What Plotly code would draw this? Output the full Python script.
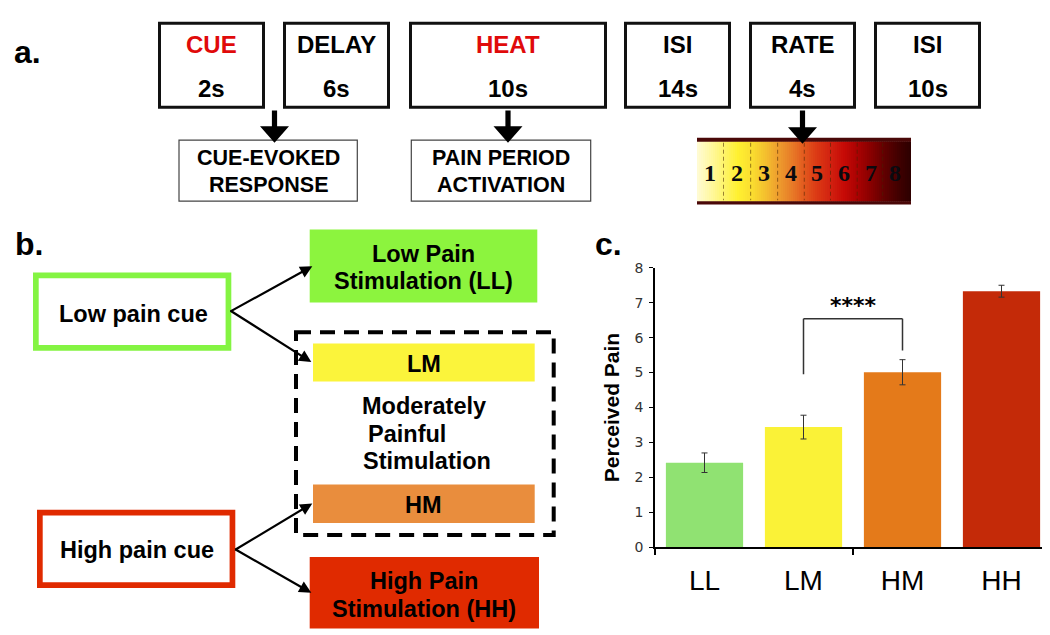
import plotly.graph_objects as go

W, H = 1050, 635
SANS = "Liberation Sans, Arial, sans-serif"
SERIF = "Liberation Serif, Times New Roman, serif"

# ---------------- data ----------------
# panel c: perceived pain by condition
categories = ["LL", "LM", "HM", "HH"]
pain_mean = [2.42, 3.44, 5.01, 7.33]
pain_sem = [0.28, 0.34, 0.36, 0.17]
y_ticks = [0, 1, 2, 3, 4, 5, 6, 7, 8]
bracket_pair = [1, 2]          # LM vs HM
bracket_low = [4.95, 5.63]
bracket_top = 6.54
sig_label = "****"

# panel a: trial structure
trial_phases = ["CUE", "DELAY", "HEAT", "ISI", "RATE", "ISI"]
trial_durations = ["2s", "6s", "10s", "14s", "4s", "10s"]
phase_is_red = [True, False, True, False, False, False]
response_labels = [["CUE-EVOKED", "RESPONSE"], ["PAIN PERIOD", "ACTIVATION"]]
rating_scale = ["1", "2", "3", "4", "5", "6", "7", "8"]

# panel b: design
cue_labels = ["Low pain cue", "High pain cue"]
stim_labels = [["Low Pain", "Stimulation (LL)"], ["LM"], ["HM"], ["High Pain", "Stimulation (HH)"]]
moderate_label = ["Moderately", "Painful", "Stimulation"]

bar_colors = ["#90e272", "#faf237", "#e47a1a", "#c42a08"]

# ---------------- helpers (pixel -> paper) ----------------
def X(px):
    return px / W

def Y(py):
    return 1 - py / H

shapes = []
annotations = []

def rect(x0, y0, x1, y1, line_color=None, line_width=0, fill=None, dash=None):
    shapes.append(dict(type="rect", xref="paper", yref="paper",
                       x0=X(x0), x1=X(x1), y0=Y(y0), y1=Y(y1),
                       line=dict(color=line_color or "rgba(0,0,0,0)", width=line_width,
                                 dash=dash or "solid"),
                       fillcolor=fill or "rgba(0,0,0,0)", layer="above"))

def vline(x, y0, y1, color, width, dash="solid"):
    shapes.append(dict(type="line", xref="paper", yref="paper",
                       x0=X(x), x1=X(x), y0=Y(y0), y1=Y(y1),
                       line=dict(color=color, width=width, dash=dash)))

def text(x, y, s, size, color="black", bold=True, family=SANS, xanchor="center"):
    annotations.append(dict(x=X(x), y=Y(y), xref="paper", yref="paper", text=s,
                            showarrow=False, xanchor=xanchor, yanchor="middle",
                            font=dict(size=size, color=color, family=family,
                                      weight="bold" if bold else "normal")))

def thick_arrow(x, y0, y1):
    hs = y1 - 17
    pts = [(x - 2.6, y0), (x + 2.6, y0), (x + 2.6, hs), (x + 14.5, hs), (x, y1),
           (x - 14.5, hs), (x - 2.6, hs)]
    path = "M " + " L ".join(f"{X(a):.5f},{Y(b):.5f}" for a, b in pts) + " Z"
    shapes.append(dict(type="path", xref="paper", yref="paper", path=path,
                       fillcolor="black", line=dict(width=0), layer="above"))

def thin_arrow(x_tail, y_tail, x_tip, y_tip):
    annotations.append(dict(x=X(x_tip), y=Y(y_tip), xref="paper", yref="paper",
                            ax=x_tail - x_tip, ay=y_tail - y_tip, text="",
                            showarrow=True, arrowhead=2, arrowsize=1.1, arrowwidth=2.2,
                            arrowcolor="black", standoff=0))

def hex2rgb(h):
    h = h.lstrip("#")
    return tuple(int(h[i:i + 2], 16) for i in (0, 2, 4))

# ---------------- panel a ----------------
text(4, 37.4, "a.", 32, xanchor="left")
box_left = [150, 275, 401, 616, 741, 866]
box_w = [107, 107, 198, 107, 107, 107]
for i, (ph, du) in enumerate(zip(trial_phases, trial_durations)):
    x0, x1 = box_left[i], box_left[i] + box_w[i]
    rect(x0 + 1.5, 7.5, x1 - 1.5, 93.5, line_color="#111", line_width=3)
    cx = (x0 + x1) / 2
    text(cx, 29.3, ph, 24, color="#e00a0a" if phase_is_red[i] else "black")
    text(cx, 74, du, 24)

resp_boxes = [(171, 349.3), (403.3, 582.7)]
for (x0, x1), lines in zip(resp_boxes, response_labels):
    rect(x0, 127.3, x1, 190, line_color="#444", line_width=1.2)
    cx = (x0 + x1) / 2
    text(cx, 145.7, lines[0], 21.5)
    text(cx, 173.3, lines[1], 21.5)

# rating scale gradient
grad = [(689, "#fffbd6"), (703, "#fff8a0"), (716, "#fef46a"), (730, "#fff030"),
        (744, "#fadd30"), (757, "#f4c12e"), (770, "#ee9e2e"), (783, "#e87e28"),
        (796, "#e2591e"), (809, "#db3914"), (822, "#d22210"), (836, "#c60a06"),
        (850, "#a80202"), (863, "#880000"), (876, "#620000"), (890, "#420000"),
        (903, "#2c0000")]

def grad_color(px):
    for (xa, ca), (xb, cb) in zip(grad[:-1], grad[1:]):
        if xa <= px <= xb:
            t = (px - xa) / (xb - xa)
            a, b = hex2rgb(ca), hex2rgb(cb)
            return "rgb(%d,%d,%d)" % tuple(round(a[k] + (b[k] - a[k]) * t) for k in range(3))
    return grad[-1][1]

px = 689.0
while px < 903:
    rect(px, 128.5, min(px + 2.6, 903), 190.5, fill=grad_color(px + 1))
    px += 2.0
rect(689, 125, 903, 129, fill="#4a0808")
rect(689, 190, 903, 193.5, fill="#4a0808")
num_x = [701.7, 729.3, 756, 783.3, 809.3, 835.7, 862.7, 886.7]
for i in range(len(num_x) - 1):
    vline((num_x[i] + num_x[i + 1]) / 2, 130, 189, "rgba(70,35,0,0.55)", 1, dash="4px,3px")
for xv, s in zip(num_x, rating_scale):
    text(xv, 160.8, s, 24, family=SERIF, color="#0a0a10")

thick_arrow(266.5, 97, 130)
thick_arrow(500, 97, 130)
thick_arrow(794.5, 97, 131)

# ---------------- panel b ----------------
text(5, 233.9, "b.", 32, xanchor="left")
rect(27.85, 266.15, 220.45, 340.45, line_color="#84f442", line_width=5.7)
rect(31.85, 509.55, 224.45, 583.85, line_color="#e02a00", line_width=5.7)
text(125, 305.7, cue_labels[0], 23.5)
text(128.8, 548.3, cue_labels[1], 23.5)

rect(301.7, 219, 529.3, 294, fill="#8cf43e")
rect(305, 336, 526.7, 375, fill="#fbf43b")
rect(305, 480.7, 526.7, 520, fill="#e98d3d")
rect(301.7, 555, 531, 628.3, fill="#e02a00")
rect(288, 324.3, 545.7, 532.3, line_color="black", line_width=4, dash="15px,9px")

text(415.5, 244.3, stim_labels[0][0], 23.5)
text(415.5, 272.3, stim_labels[0][1], 23.5)
text(415.9, 356.7, stim_labels[1][0], 23.5)
text(415.9, 501.7, stim_labels[2][0], 23.5)
text(416.3, 579.3, stim_labels[3][0], 23.5)
text(416.3, 608.3, stim_labels[3][1], 23.5)
text(351.7, 400, moderate_label[0], 23.5, xanchor="left")
text(358.3, 428.3, moderate_label[1], 23.5, xanchor="left")
text(352.7, 456, moderate_label[2], 23.5, xanchor="left")

thin_arrow(221, 302.7, 304.3, 256.7)
thin_arrow(221, 302.7, 303.3, 355)
thin_arrow(225.7, 547.3, 304.3, 500)
thin_arrow(225.7, 547.3, 303.3, 591.7)

# ---------------- panel c ----------------
text(585, 233.9, "c.", 32, xanchor="left")
xs = list(range(len(categories)))
fig = go.Figure()
fig.add_trace(go.Bar(
    x=xs, y=pain_mean, width=0.78,
    marker=dict(color=bar_colors, line=dict(width=0)),
    error_y=dict(type="data", array=pain_sem, color="#333", thickness=1, width=3),
    showlegend=False, hoverinfo="skip"))

b0, b1 = bracket_pair
for xa, ya, xb, yb in [(b0, bracket_low[0], b0, bracket_top),
                       (b0, bracket_top, b1, bracket_top),
                       (b1, bracket_top, b1, bracket_low[1])]:
    shapes.append(dict(type="line", xref="x", yref="y", x0=xa, x1=xb, y0=ya, y1=yb,
                       line=dict(color="#333", width=1.5)))
annotations.append(dict(x=(b0 + b1) / 2, y=6.92, xref="x", yref="y", text=sig_label,
                        showarrow=False, font=dict(size=22, color="black",
                                                   family="DejaVu Sans", weight="bold")))

fig.update_layout(
    width=W, height=H, margin=dict(l=0, r=0, t=0, b=0),
    paper_bgcolor="white", plot_bgcolor="white",
    shapes=shapes, annotations=annotations, bargap=0.22,
    xaxis=dict(domain=[X(647), X(1043)], range=[-0.5, 3.5], tickvals=xs,
               ticktext=categories, ticks="", showline=True, linecolor="black",
               linewidth=1.5, showgrid=False, zeroline=False, fixedrange=True,
               tickfont=dict(size=28, family=SANS, color="black"),
               ticklabelstandoff=7,
               minor=dict(tickvals=[-0.5, 1.5, 3.5], ticks="outside", ticklen=6,
                          tickwidth=1.5, tickcolor="black", showgrid=False)),
    yaxis=dict(domain=[Y(545), Y(258.3)], range=[0, 8], tickvals=y_ticks,
               ticks="outside", ticklen=4, tickwidth=1.2, tickcolor="black",
               showline=True, linecolor="black", linewidth=1.5, showgrid=False,
               zeroline=False, fixedrange=True,
               tickfont=dict(size=14, family="DejaVu Sans", color="#333"),
               ticklabelstandoff=3,
               title=dict(text="Perceived Pain", standoff=9,
                          font=dict(size=21, family=SANS, color="black", weight="bold"))),
)
fig.write_html("out.html")
